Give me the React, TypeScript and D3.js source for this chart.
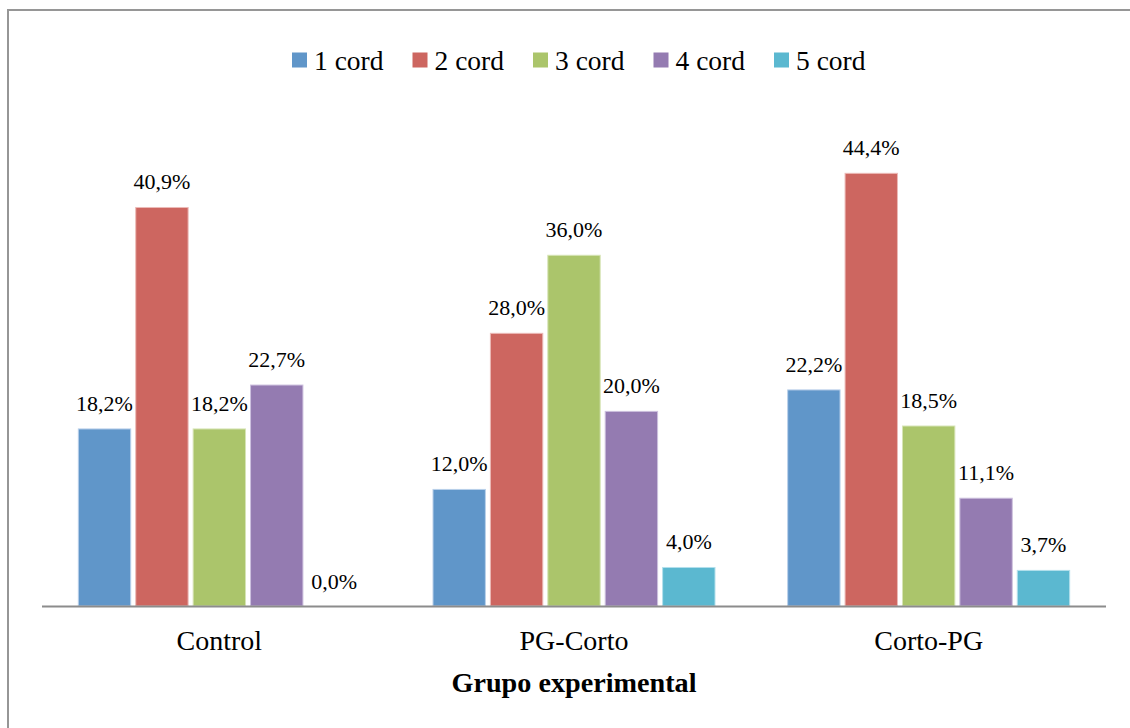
import React from "react";
import * as d3 from "d3";

const groups = ["Control", "PG-Corto", "Corto-PG"];
const seriesNames = ["1 cord", "2 cord", "3 cord", "4 cord", "5 cord"];
const series1 = [18.2, 12.0, 22.2];
const series2 = [40.9, 28.0, 44.4];
const series3 = [18.2, 36.0, 18.5];
const series4 = [22.7, 20.0, 11.1];
const series5 = [0.0, 4.0, 3.7];
const colors = ["#6096c9", "#cd6660", "#abc56b", "#947bb1", "#5bb8d0"];
const edgeColors = ["#b9d0ea", "#ecbab7", "#d7e4b6", "#cdc0de", "#b3e0ec"];
const xTitle = "Grupo experimental";

const allSeries = [series1, series2, series3, series4, series5];

const W = 1130;
const H = 728;
const FONT = "'Liberation Serif', 'Times New Roman', serif";

export default function App() {
  const x0 = d3.scaleBand<string>().domain(groups).range([42, 1106]).paddingInner(0).paddingOuter(0);
  const clusterW = 283;
  const x1 = d3
    .scaleBand<string>()
    .domain(seriesNames)
    .range([0, clusterW])
    .paddingInner(0.07)
    .paddingOuter(0);
  const y = d3.scaleLinear().domain([0, 50]).range([606, 118.2]);
  const fmt = (v: number) => v.toFixed(1).replace(".", ",") + "%";

  const legendX = d3.scaleBand<string>().domain(seriesNames).range([292, 292 + 5 * 120.5]);

  return (
    <div style={{ position: "absolute", left: 0, top: 0 }}>
      <svg width={W} height={H} style={{ display: "block", background: "#fff" }}>
        <rect x={8} y={10} width={1140} height={740} fill="#fff" stroke="#969696" strokeWidth={2} />
        {/* legend */}
        {seriesNames.map((s, i) => (
          <g key={s} transform={`translate(${legendX(s)},0)`}>
            <rect x={0} y={52.5} width={15} height={15} fill={colors[i]} />
            <text x={22} y={70} fontFamily={FONT} fontSize={27.5} fill="#000">
              {s}
            </text>
          </g>
        ))}
        {/* bars */}
        {groups.map((g, gi) => {
          const cx = (x0(g) as number) + x0.bandwidth() / 2;
          const start = cx - clusterW / 2;
          return (
            <g key={g}>
              {seriesNames.map((s, si) => {
                const v = allSeries[si][gi];
                const bx = start + (x1(s) as number);
                const bw = x1.bandwidth();
                const top = y(v);
                return (
                  <g key={s}>
                    {v > 0 && (
                      <rect
                        x={bx + 0.5}
                        y={top + 0.5}
                        width={bw - 1}
                        height={y(0) - top - 0.5}
                        fill={colors[si]}
                        stroke={edgeColors[si]}
                        strokeWidth={1}
                      />
                    )}
                    <text
                      x={bx + bw / 2}
                      y={top - 17.5}
                      textAnchor="middle"
                      fontFamily={FONT}
                      fontSize={22}
                      fill="#000"
                    >
                      {fmt(v)}
                    </text>
                  </g>
                );
              })}
              <text x={cx} y={650} textAnchor="middle" fontFamily={FONT} fontSize={28} fill="#000">
                {g}
              </text>
            </g>
          );
        })}
        {/* axis line */}
        <line x1={42} x2={1106} y1={606.5} y2={606.5} stroke="#8c8c8c" strokeWidth={2} />
        <text
          x={574}
          y={692}
          textAnchor="middle"
          fontFamily={FONT}
          fontSize={28.2}
          fontWeight="bold"
          fill="#000"
        >
          {xTitle}
        </text>
      </svg>
    </div>
  );
}
